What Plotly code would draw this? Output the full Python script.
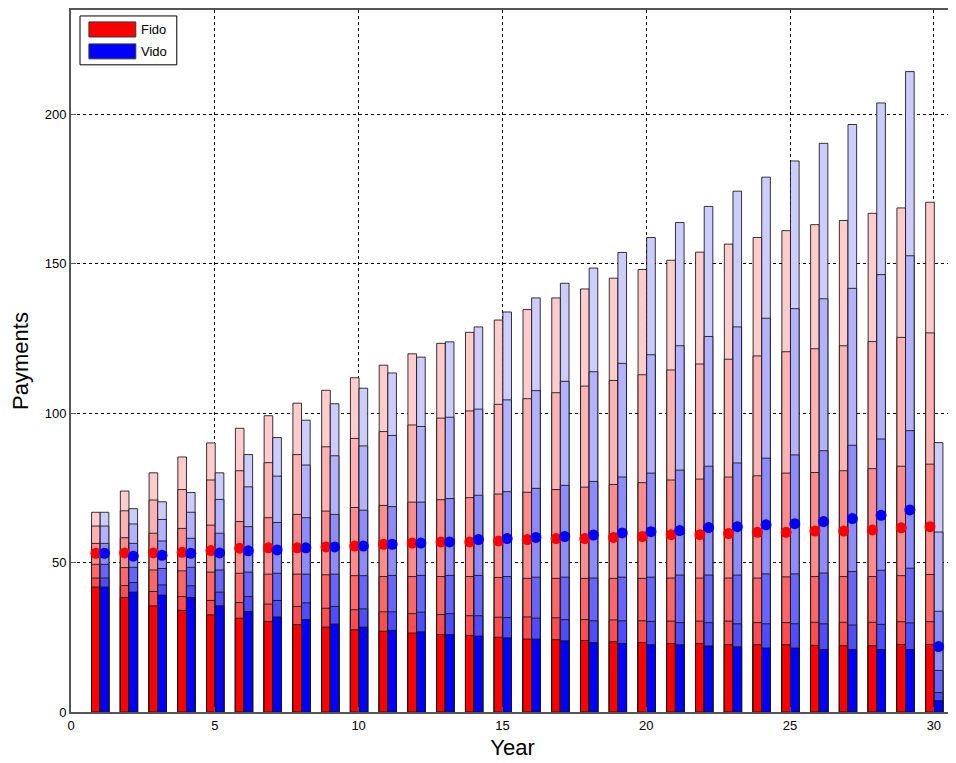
import plotly.graph_objects as go

years = list(range(1, 31))

# cumulative segment tops, bottom segment first
fido_l1 = [41.8, 38.3, 35.5, 34.0, 32.5, 31.4, 30.3, 29.2, 28.4, 27.5, 27.0, 26.4, 25.9, 25.6, 25.0,
           24.4, 24.2, 23.9, 23.5, 23.2, 22.9, 22.9, 22.5, 22.5, 22.5, 22.3, 22.2, 22.2, 22.6, 22.6]
fido_l2 = [44.8, 42.3, 40.3, 38.6, 37.3, 36.6, 36.1, 35.3, 34.7, 34.2, 33.5, 32.9, 32.6, 32.2, 31.7,
           31.8, 31.5, 30.9, 30.8, 30.5, 30.4, 30.4, 30.4, 29.9, 29.9, 30.0, 30.0, 30.0, 30.2, 30.2]
fido_l3 = [49.4, 48.3, 47.5, 47.2, 46.8, 46.4, 46.1, 46.1, 45.9, 45.6, 45.3, 45.3, 45.3, 45.3, 45.0,
           44.7, 44.7, 44.7, 44.7, 44.7, 44.8, 44.8, 44.8, 44.8, 45.2, 45.3, 45.3, 45.3, 45.6, 46.0]
fido_l4 = [56.4, 58.3, 59.8, 61.4, 62.5, 63.7, 65.0, 66.1, 67.2, 68.4, 69.1, 70.2, 71.0, 71.7, 72.9,
           73.5, 74.4, 75.2, 76.1, 76.7, 77.6, 77.9, 78.6, 79.0, 79.9, 80.1, 80.7, 81.4, 82.2, 82.9]
fido_l5 = [62.2, 67.3, 70.9, 74.4, 77.6, 80.7, 83.4, 86.1, 88.7, 91.5, 93.8, 96.0, 98.3, 100.7, 102.9,
           104.8, 106.8, 109.0, 110.9, 112.8, 114.4, 116.4, 118.0, 119.1, 120.5, 121.5, 122.5, 123.9, 125.3, 126.8]
fido_l6 = [66.8, 73.9, 80.0, 85.3, 90.0, 94.9, 99.1, 103.3, 107.6, 111.8, 116.0, 119.8, 123.3, 127.0, 131.1,
           134.6, 138.5, 141.5, 145.1, 148.0, 151.1, 153.8, 156.5, 158.7, 161.0, 163.0, 164.4, 166.8, 168.6, 170.5]

vido_l1 = [41.8, 40.1, 39.1, 38.3, 35.5, 33.6, 31.8, 30.9, 29.4, 28.4, 27.3, 26.8, 25.9, 25.4, 24.8,
           24.4, 23.8, 23.2, 22.9, 22.5, 22.5, 22.1, 21.8, 21.4, 21.4, 20.9, 20.9, 20.9, 20.9, 3.8]
vido_l2 = [44.8, 43.3, 42.5, 42.2, 40.1, 38.6, 37.3, 36.5, 35.3, 34.5, 33.5, 33.4, 32.9, 32.2, 31.6,
           31.4, 30.9, 30.5, 30.5, 30.3, 29.9, 29.9, 29.5, 29.5, 29.5, 29.5, 29.1, 29.3, 29.8, 6.5]
vido_l3 = [49.4, 48.4, 48.0, 48.4, 47.5, 46.8, 46.4, 46.1, 46.1, 45.6, 45.7, 45.7, 45.7, 45.7, 45.3,
           45.1, 45.1, 44.8, 45.1, 45.1, 45.8, 45.8, 45.8, 46.2, 46.2, 46.5, 47.0, 47.4, 48.1, 13.9]
vido_l4 = [56.4, 56.4, 57.2, 58.1, 59.8, 62.0, 63.4, 65.0, 66.1, 67.5, 68.7, 70.2, 71.4, 72.5, 73.7,
           74.8, 75.8, 77.1, 78.6, 79.9, 80.9, 82.2, 83.3, 84.9, 86.0, 87.4, 89.2, 91.3, 94.1, 33.7]
vido_l5 = [62.2, 62.9, 64.4, 66.8, 71.1, 75.3, 78.9, 82.6, 85.7, 89.0, 92.5, 95.5, 98.6, 101.3, 104.4,
           107.5, 110.6, 113.8, 116.6, 119.5, 122.5, 125.6, 128.8, 131.7, 134.9, 138.2, 141.7, 146.3, 152.6, 60.2]
vido_l6 = [66.8, 68.0, 70.3, 73.4, 80.0, 86.1, 91.8, 97.6, 103.1, 108.3, 113.4, 118.7, 123.8, 128.8, 133.8,
           138.5, 143.4, 148.5, 153.7, 158.7, 163.7, 169.1, 174.2, 178.9, 184.3, 190.2, 196.5, 203.7, 214.2, 90.1]

fido_dots = [53.1, 53.2, 53.2, 53.4, 54.0, 54.8, 54.9, 54.9, 55.2, 55.5, 56.1, 56.5, 56.9, 56.9, 57.2,
             57.7, 58.0, 58.0, 58.4, 58.7, 59.3, 59.3, 59.7, 60.1, 60.1, 60.5, 60.5, 60.9, 61.6, 62.0]
vido_dots = [53.1, 52.1, 52.4, 53.1, 53.2, 53.9, 54.2, 54.9, 55.2, 55.5, 56.1, 56.5, 56.9, 57.7, 58.0,
             58.4, 58.7, 59.2, 59.9, 60.3, 60.7, 61.7, 62.0, 62.6, 63.0, 63.7, 64.7, 65.8, 67.6, 21.9]

fido_levels = [fido_l1, fido_l2, fido_l3, fido_l4, fido_l5, fido_l6]
vido_levels = [vido_l1, vido_l2, vido_l3, vido_l4, vido_l5, vido_l6]

# shade of each level, bottom (full colour) to top (palest)
fade = [0, 77, 102, 140, 178, 204]
red_shades = ['rgb(255,%d,%d)' % (f, f) for f in fade]
blue_shades = ['rgb(%d,%d,255)' % (f, f) for f in fade]

BW = 0.3
fig = go.Figure()

# tallest level first, shorter darker ones drawn over it
for levels, shades, off in [(fido_levels, red_shades, -0.285), (vido_levels, blue_shades, 0.015)]:
    for i in range(5, -1, -1):
        fig.add_trace(go.Bar(
            x=years, y=levels[i], width=BW, offset=off,
            marker=dict(color=shades[i], line=dict(color='rgba(20,20,20,0.85)', width=1)),
            showlegend=False, hoverinfo='skip',
        ))

fig.add_trace(go.Scatter(
    x=[y - 0.135 for y in years], y=fido_dots, mode='markers',
    marker=dict(color='#ff0000', size=11), showlegend=False,
))
fig.add_trace(go.Scatter(
    x=[y + 0.165 for y in years], y=vido_dots, mode='markers',
    marker=dict(color='#0000ff', size=11), showlegend=False,
))

# legend box, drawn by hand to get the wide swatches
shapes = [
    dict(type='rect', xref='paper', yref='paper', x0=0.0102, x1=0.1198, y0=0.9219, y1=0.9915,
         line=dict(color='black', width=1), fillcolor='white', layer='above'),
    dict(type='rect', xref='paper', yref='paper', x0=0.0203, x1=0.0734, y0=0.9616, y1=0.9830,
         line=dict(color='#333', width=1), fillcolor='#ff0000', layer='above'),
    dict(type='rect', xref='paper', yref='paper', x0=0.0203, x1=0.0734, y0=0.9304, y1=0.9517,
         line=dict(color='#333', width=1), fillcolor='#0000ff', layer='above'),
]
annotations = [
    dict(text='Fido', xref='paper', yref='paper', x=0.0768, y=0.9723, xanchor='left', yanchor='middle',
         showarrow=False, font=dict(size=13, color='black')),
    dict(text='Vido', xref='paper', yref='paper', x=0.0768, y=0.9410, xanchor='left', yanchor='middle',
         showarrow=False, font=dict(size=13, color='black')),
]

# page body adds an 8px margin, so the figure is shrunk to compensate
fig.update_layout(
    width=948, height=755,
    margin=dict(l=63, r=0, t=0, b=51),
    barmode='overlay',
    plot_bgcolor='white', paper_bgcolor='white',
    font=dict(family='Liberation Sans, Arial, sans-serif', color='black'),
    shapes=shapes, annotations=annotations,
)
fig.update_xaxes(
    range=[0, 30.7], tickvals=[0, 5, 10, 15, 20, 25, 30],
    showgrid=True, gridcolor='black', griddash='3px,3px', gridwidth=1,
    showline=True, linecolor='#555', linewidth=2, mirror=True,
    ticks='inside', ticklen=5, tickcolor='#555', zeroline=False,
    tickfont=dict(size=13),
    title=dict(text='Year', font=dict(size=22), standoff=8),
)
fig.update_yaxes(
    range=[0, 234.8], tickvals=[0, 50, 100, 150, 200],
    showgrid=True, gridcolor='black', griddash='3px,3px', gridwidth=1,
    showline=True, linecolor='#555', linewidth=2, mirror=True,
    ticks='inside', ticklen=5, tickcolor='#555', zeroline=False,
    tickfont=dict(size=13),
    title=dict(text='Payments', font=dict(size=22), standoff=10),
)

fig.write_html("out.html")
